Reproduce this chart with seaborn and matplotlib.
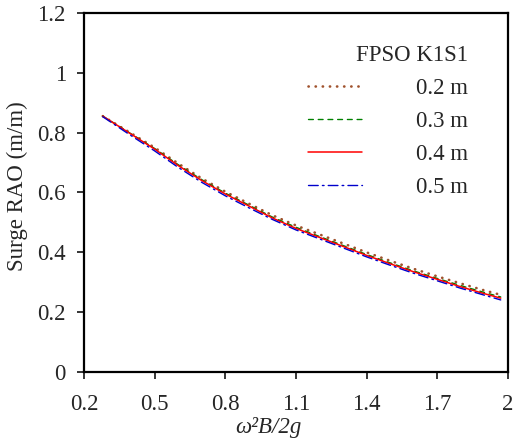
import numpy as np
import pandas as pd
import matplotlib
matplotlib.use("Agg")
import matplotlib.pyplot as plt
import seaborn as sns

sns.set_style("white")
plt.rcParams['font.family'] = ['Liberation Serif', 'DejaVu Serif']

freq = [0.28, 0.4, 0.5, 0.6, 0.7, 0.8, 0.9, 1.0, 1.1, 1.2, 1.3, 1.4, 1.5, 1.6, 1.7, 1.8, 1.9, 1.97]
rao_02 = [0.855, 0.798, 0.750, 0.697, 0.647, 0.603, 0.563, 0.524, 0.490, 0.460, 0.430, 0.400, 0.372, 0.345, 0.320, 0.296, 0.273, 0.258]
rao_03 = [0.855, 0.796, 0.747, 0.693, 0.643, 0.598, 0.558, 0.518, 0.484, 0.453, 0.423, 0.393, 0.365, 0.338, 0.313, 0.289, 0.266, 0.251]
rao_04 = [0.855, 0.795, 0.745, 0.690, 0.640, 0.595, 0.555, 0.515, 0.480, 0.450, 0.420, 0.390, 0.362, 0.335, 0.310, 0.285, 0.262, 0.247]
rao_05 = [0.853, 0.790, 0.739, 0.684, 0.634, 0.589, 0.549, 0.510, 0.475, 0.445, 0.415, 0.385, 0.357, 0.330, 0.305, 0.280, 0.257, 0.241]
labels = ["0.2 m", "0.3 m", "0.4 m", "0.5 m"]
legend_title = "FPSO K1S1"
xticks = [0.2, 0.5, 0.8, 1.1, 1.4, 1.7, 2.0]
xticklabels = ["0.2", "0.5", "0.8", "1.1", "1.4", "1.7", "2"]
yticks = [0, 0.2, 0.4, 0.6, 0.8, 1.0, 1.2]
yticklabels = ["0", "0.2", "0.4", "0.6", "0.8", "1", "1.2"]

series = [rao_02, rao_03, rao_04, rao_05]
colors = ["#a0522d", "#008000", "#ff0000", "#0000cc"]
styles = [(0, (0.1, 2.6)), (0, (3.5, 3.5)), "-", (0, (7, 3, 1.2, 3))]
widths = [1.9, 1.0, 1.1, 1.0]

FS = 16.5

fig = plt.figure(figsize=(5.15, 4.44), dpi=100)
ax = fig.add_axes([0.163, 0.162, 0.823, 0.809])

for vals, lab, c, ls, lw in zip(series, labels, colors, styles, widths):
    df = pd.DataFrame({"x": freq, "y": vals})
    sns.lineplot(data=df, x="x", y="y", ax=ax, color=c, linestyle=ls, linewidth=lw,
                 label=lab, sort=True, dash_capstyle="round")

ax.set_xlim(0.2, 2.0)
ax.set_ylim(0, 1.2)
ax.set_xticks(xticks)
ax.set_xticklabels(xticklabels)
ax.set_yticks(yticks)
ax.set_yticklabels(yticklabels)
ax.tick_params(axis='both', direction='out', length=5, width=1.3, labelsize=FS,
               bottom=True, left=True, top=False, right=False)
ax.tick_params(axis='x', pad=11)
ax.tick_params(axis='y', pad=8)
for s in ax.spines.values():
    s.set_linewidth(1.6)
    s.set_color('black')
ax.set_xlabel("ω²B/2g", fontsize=FS, fontstyle='italic')
ax.xaxis.set_label_coords(0.436, -0.125)
ax.set_ylabel("Surge RAO (m/m)", fontsize=FS)
ax.yaxis.set_label_coords(-0.132, 0.518)

leg = ax.legend(title=legend_title, frameon=False, loc='upper right',
                bbox_to_anchor=(0.906, 0.911), borderpad=0, borderaxespad=0,
                fontsize=FS, title_fontsize=FS,
                handlelength=2.36, handletextpad=2.36, labelspacing=0.52,
                alignment='right')

fig.savefig("out.png", dpi=100)
